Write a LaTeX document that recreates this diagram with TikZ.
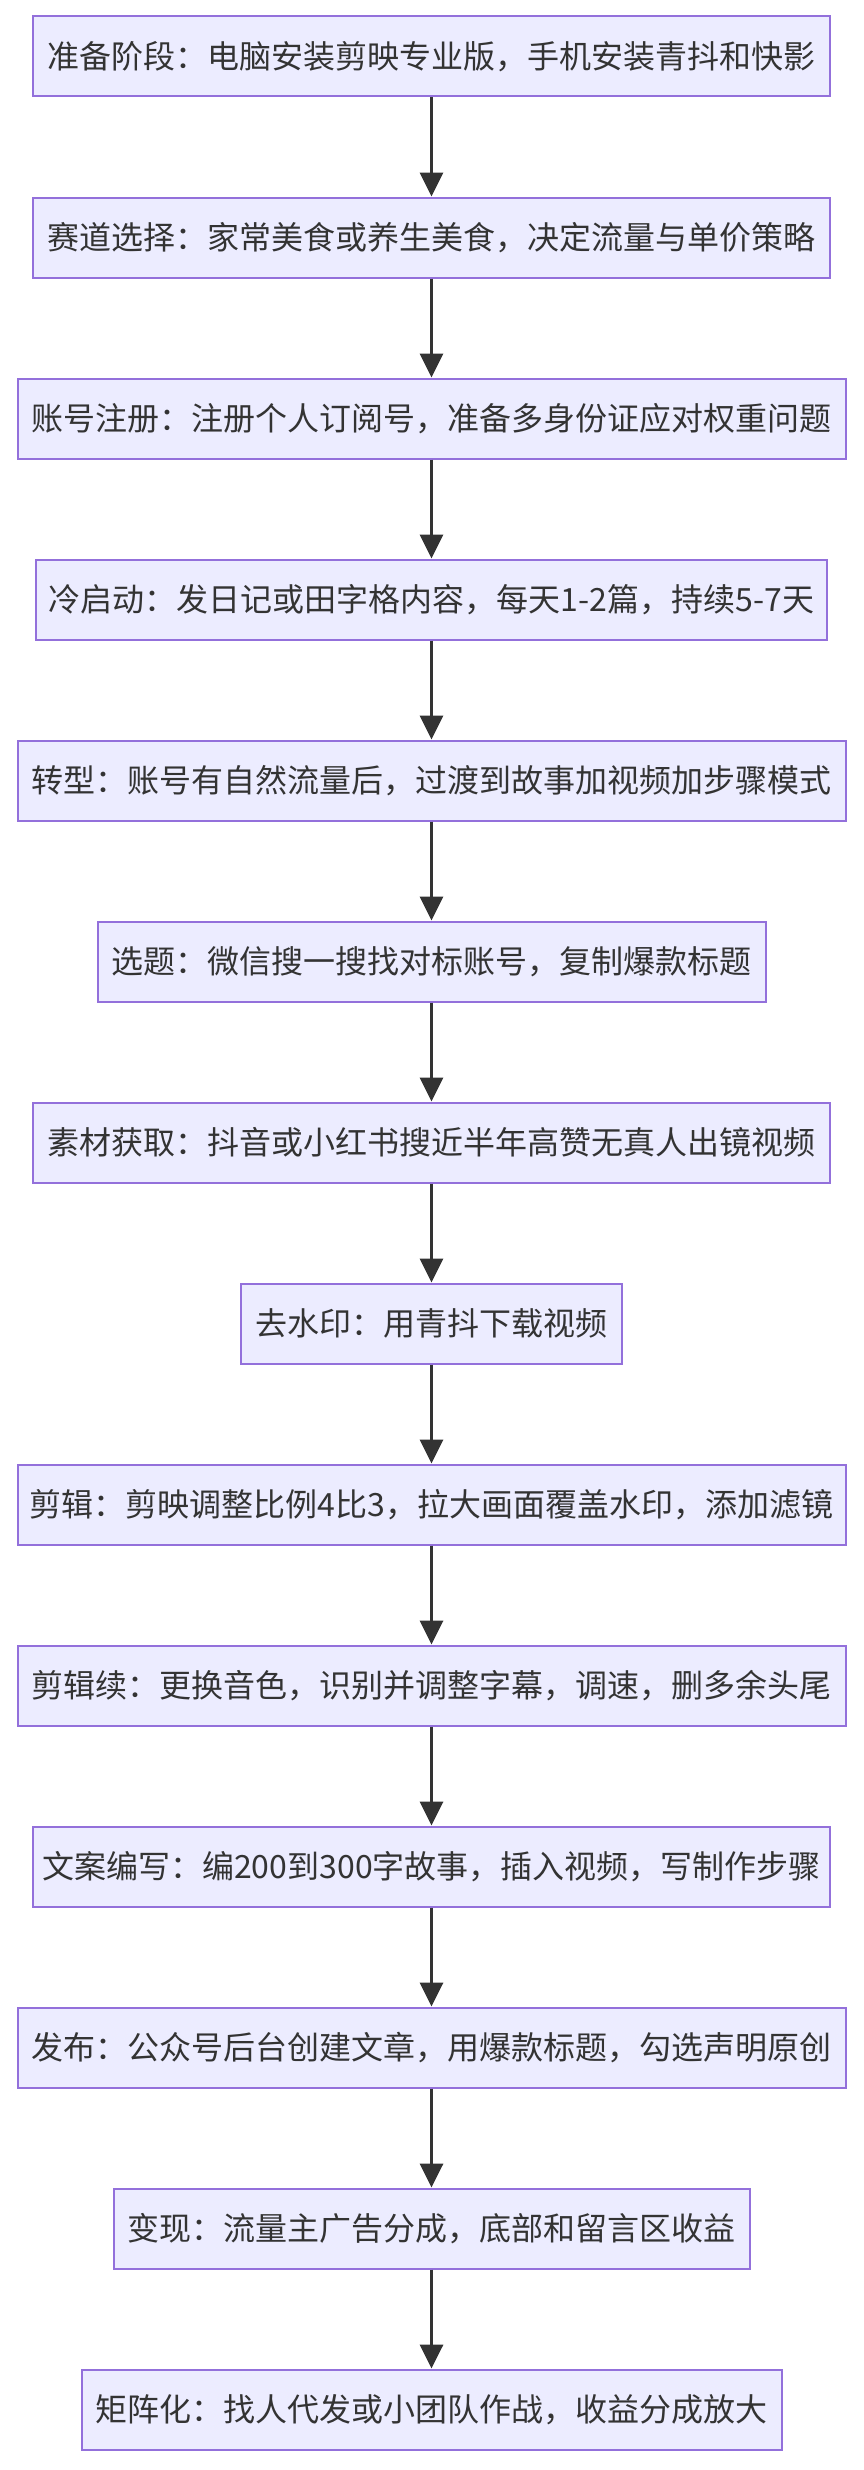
\documentclass[tikz,border=0pt]{standalone}
\usepackage{fontspec}
\setmainfont{Noto Sans CJK SC}
\usepackage{xcolor}
\usetikzlibrary{arrows.meta,positioning}
\definecolor{boxfill}{HTML}{ECECFF}
\definecolor{boxline}{HTML}{9370DB}
\definecolor{inkgray}{HTML}{333333}

\begin{document}
\begin{tikzpicture}[font=\fontsize{32pt}{36pt}\selectfont,
  stage/.style={draw=boxline,fill=boxfill,line width=2pt,text=inkgray,
    minimum height=80pt,inner sep=0pt},
  ar/.style={-{Triangle[length=24pt,width=23pt]},line width=3.5pt,draw=inkgray},
  node distance=99pt]
\useasboundingbox (0,0) rectangle (864pt,-2470pt);
% --- setup: tools, track, account, cold start ---
\node[stage,minimum width=797pt] (prep) at (431.5pt,-56.5pt)
  {准备阶段：电脑安装剪映专业版，手机安装青抖和快影};
\node[stage,minimum width=797pt,below=of prep] (track)
  {赛道选择：家常美食或养生美食，决定流量与单价策略};
\node[stage,minimum width=828pt,below=of track] (reg)
  {账号注册：注册个人订阅号，准备多身份证应对权重问题};
\node[stage,minimum width=791pt,below=of reg] (cold)
  {冷启动：发日记或田字格内容，每天1-2篇，持续5-7天};
\node[stage,minimum width=828pt,below=of cold] (shift)
  {转型：账号有自然流量后，过渡到故事加视频加步骤模式};
% --- content production ---
\node[stage,minimum width=668pt,below=of shift] (topic)
  {选题：微信搜一搜找对标账号，复制爆款标题};
\node[stage,minimum width=797pt,below=of topic] (src)
  {素材获取：抖音或小红书搜近半年高赞无真人出镜视频};
\node[stage,minimum width=381pt,below=of src] (nowm)
  {去水印：用青抖下载视频};
\node[stage,minimum width=828pt,below=of nowm] (cut)
  {剪辑：剪映调整比例4比3，拉大画面覆盖水印，添加滤镜};
\node[stage,minimum width=828pt,below=of cut] (cutb)
  {剪辑续：更换音色，识别并调整字幕，调速，删多余头尾};
\node[stage,minimum width=797pt,below=of cutb] (copy)
  {文案编写：编200到300字故事，插入视频，写制作步骤};
% --- publishing and income ---
\node[stage,minimum width=828pt,below=of copy] (pub)
  {发布：公众号后台创建文章，用爆款标题，勾选声明原创};
\node[stage,minimum width=636pt,below=of pub] (cash)
  {变现：流量主广告分成，底部和留言区收益};
\node[stage,minimum width=700pt,below=of cash] (grid)
  {矩阵化：找人代发或小团队作战，收益分成放大};
\draw[ar] (prep) -- (track);
\draw[ar] (track) -- (reg);
\draw[ar] (reg) -- (cold);
\draw[ar] (cold) -- (shift);
\draw[ar] (shift) -- (topic);
\draw[ar] (topic) -- (src);
\draw[ar] (src) -- (nowm);
\draw[ar] (nowm) -- (cut);
\draw[ar] (cut) -- (cutb);
\draw[ar] (cutb) -- (copy);
\draw[ar] (copy) -- (pub);
\draw[ar] (pub) -- (cash);
\draw[ar] (cash) -- (grid);
\end{tikzpicture}
\end{document}
